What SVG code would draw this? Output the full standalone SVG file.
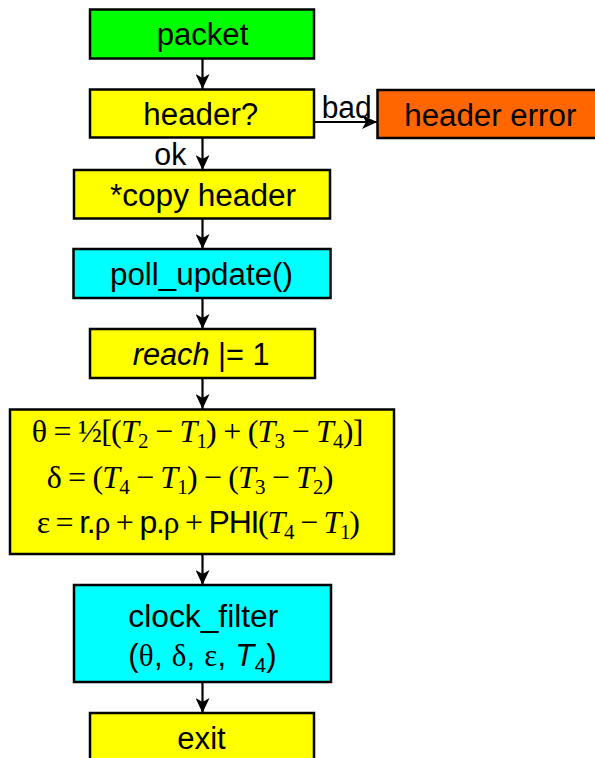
<svg xmlns="http://www.w3.org/2000/svg" width="595" height="758" viewBox="0 0 595 758">
<defs>
<style>
.box{stroke:#000;stroke-width:2.5}
.g{fill:#00FF00}.y{fill:#FFFF00}.c{fill:#00FFFF}.o{fill:#FF6600}
.t{font-family:"Liberation Sans",Arial,sans-serif;font-size:31px;fill:#000}
.s{font-family:"Liberation Serif","Times New Roman",serif;font-size:32px;fill:#000}
.i{font-style:italic}
.sub{font-size:21px}
.conn{stroke:#000;stroke-width:2.2;fill:none;marker-end:url(#ah)}
</style>
<marker id="ah" viewBox="0 0 15 14" refX="15" refY="7" markerWidth="15" markerHeight="14" markerUnits="userSpaceOnUse" orient="auto">
<path d="M0,0 L15,7 L0,14 L4,7 z" fill="#000"/>
</marker>
</defs>

<g id="connectors">
<line class="conn" x1="202.5" y1="58" x2="202.5" y2="89"/>
<line class="conn" x1="202.5" y1="137" x2="202.5" y2="170"/>
<line class="conn" x1="314" y1="122" x2="377" y2="122"/>
<line class="conn" x1="202.5" y1="218" x2="202.5" y2="249"/>
<line class="conn" x1="202.5" y1="298" x2="202.5" y2="329"/>
<line class="conn" x1="202.5" y1="378" x2="202.5" y2="409"/>
<line class="conn" x1="202.5" y1="554" x2="202.5" y2="585"/>
<line class="conn" x1="202.5" y1="682" x2="202.5" y2="713"/>
<text class="t" x="154.3" y="165" font-size="27" textLength="32" lengthAdjust="spacingAndGlyphs">ok</text>
<text class="t" x="321.7" y="118" font-size="29" textLength="50" lengthAdjust="spacingAndGlyphs">bad</text>
</g>

<g id="packet">
<rect class="box g" x="90" y="9.5" width="224" height="49"/>
<text class="t" x="156.7" y="45" textLength="91.6" lengthAdjust="spacingAndGlyphs">packet</text>
</g>

<g id="header">
<rect class="box y" x="90" y="89.5" width="224" height="48"/>
<text class="t" x="143.3" y="125" textLength="115" lengthAdjust="spacingAndGlyphs">header?</text>
</g>

<g id="header-error">
<rect class="box o" x="377.5" y="90" width="224" height="48"/>
<text class="t" x="404.3" y="125.5" textLength="172" lengthAdjust="spacingAndGlyphs">header error</text>
</g>

<g id="copy-header">
<rect class="box y" x="74" y="170" width="256" height="48.5"/>
<text class="t" x="110" y="205.5" textLength="186" lengthAdjust="spacingAndGlyphs">*copy header</text>
</g>

<g id="poll-update">
<rect class="box c" x="73.5" y="249" width="257" height="49"/>
<text class="t" x="110" y="285" textLength="183" lengthAdjust="spacingAndGlyphs">poll_update()</text>
</g>

<g id="reach">
<rect class="box y" x="90" y="329" width="225" height="49"/>
<text class="t" x="132.7" y="365" textLength="137" lengthAdjust="spacingAndGlyphs"><tspan class="i">reach</tspan> |= 1</text>
</g>

<g id="offsets">
<rect class="box y" x="10" y="409.5" width="384" height="144.5"/>
<text class="s" x="31.7" y="442" textLength="331.6" lengthAdjust="spacing">θ = ½[(<tspan class="i">T</tspan><tspan class="sub" dy="6">2</tspan><tspan dy="-6"> − </tspan><tspan class="i">T</tspan><tspan class="sub" dy="6">1</tspan><tspan dy="-6">) + (</tspan><tspan class="i">T</tspan><tspan class="sub" dy="6">3</tspan><tspan dy="-6"> − </tspan><tspan class="i">T</tspan><tspan class="sub" dy="6">4</tspan><tspan dy="-6">)]</tspan></text>
<text class="s" x="46.7" y="488" textLength="286.6" lengthAdjust="spacing">δ = (<tspan class="i">T</tspan><tspan class="sub" dy="6">4</tspan><tspan dy="-6"> − </tspan><tspan class="i">T</tspan><tspan class="sub" dy="6">1</tspan><tspan dy="-6">) − (</tspan><tspan class="i">T</tspan><tspan class="sub" dy="6">3</tspan><tspan dy="-6"> − </tspan><tspan class="i">T</tspan><tspan class="sub" dy="6">2</tspan><tspan dy="-6">)</tspan></text>
<text class="s" x="36.7" y="533" textLength="323.3" lengthAdjust="spacing">ε = <tspan font-family="Liberation Sans, sans-serif">r.</tspan>ρ + <tspan font-family="Liberation Sans, sans-serif">p.</tspan>ρ + <tspan font-family="Liberation Sans, sans-serif">PHI</tspan>(<tspan class="i">T</tspan><tspan class="sub" dy="6">4</tspan><tspan dy="-6"> − </tspan><tspan class="i">T</tspan><tspan class="sub" dy="6">1</tspan><tspan dy="-6">)</tspan></text>
</g>

<g id="clock-filter">
<rect class="box c" x="74" y="585" width="257" height="97"/>
<text class="t" x="128.3" y="626.5" textLength="150" lengthAdjust="spacingAndGlyphs">clock_filter</text>
<text class="t" x="128.3" y="665.5" textLength="148.4" lengthAdjust="spacing">(<tspan font-family="Liberation Serif, serif">θ</tspan>, <tspan font-family="Liberation Serif, serif">δ</tspan>, <tspan font-family="Liberation Serif, serif">ε</tspan>, <tspan class="i">T</tspan><tspan class="sub" dy="6">4</tspan><tspan dy="-6">)</tspan></text>
</g>

<g id="exit">
<rect class="box y" x="90" y="713" width="224" height="49"/>
<text class="t" x="177.3" y="749" textLength="48.4" lengthAdjust="spacingAndGlyphs">exit</text>
</g>
</svg>
